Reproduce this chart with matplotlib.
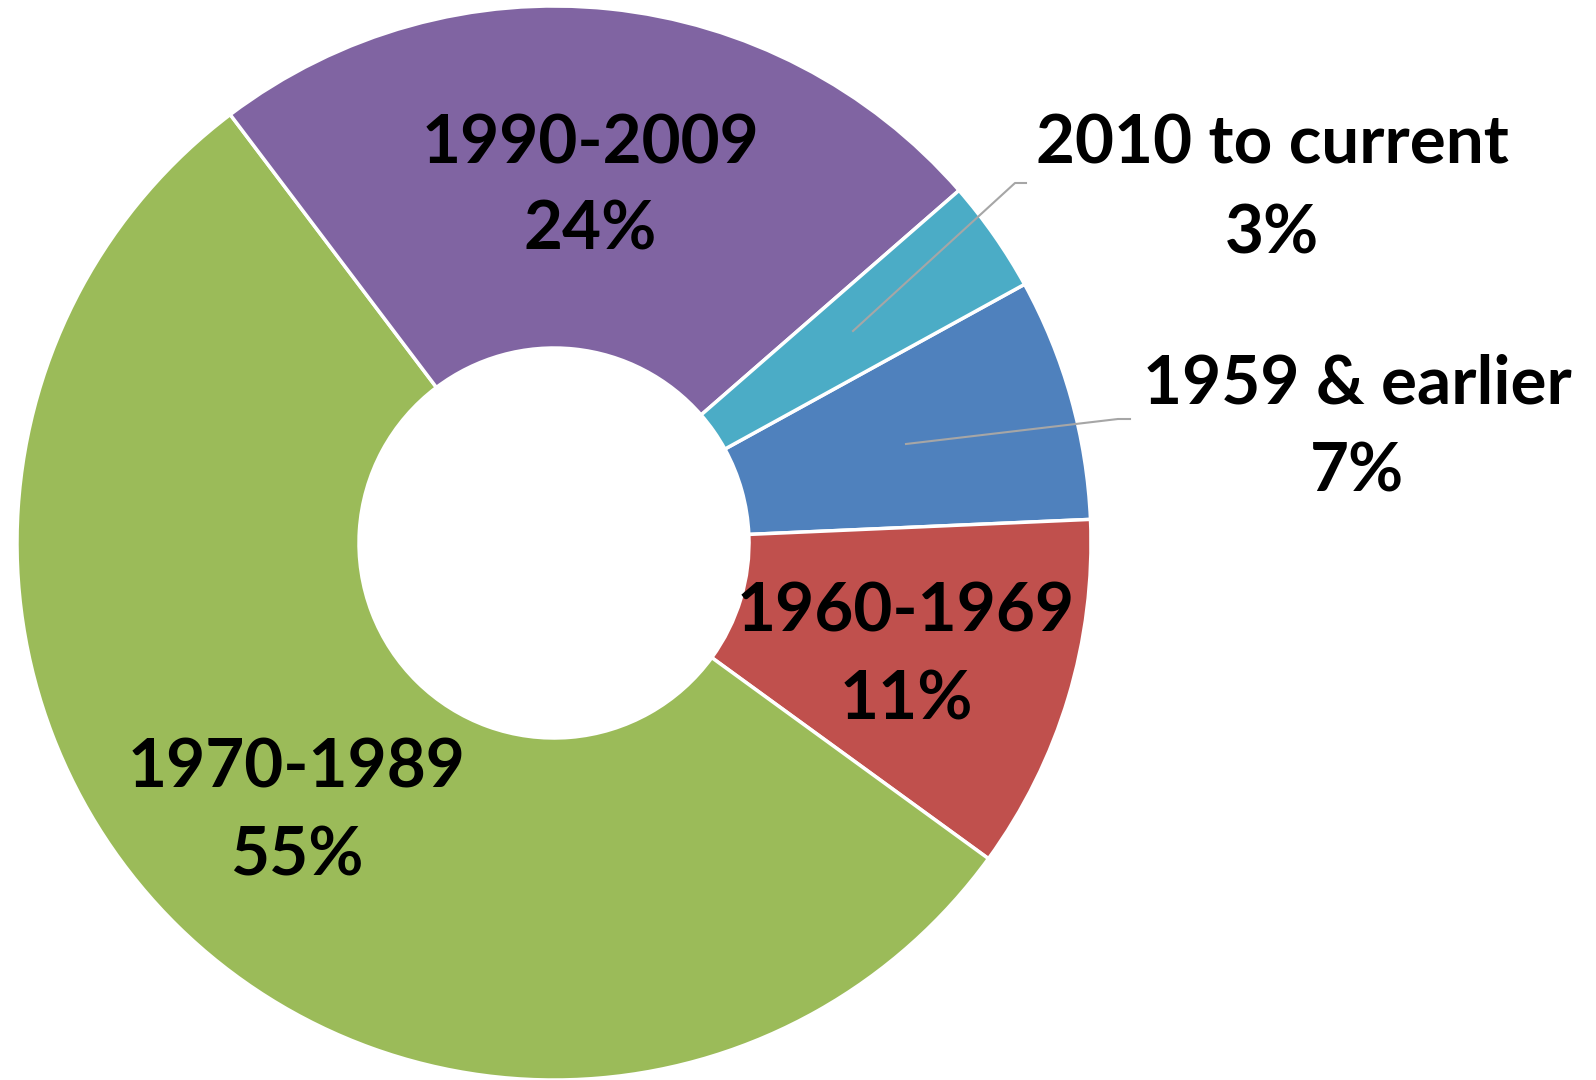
"""
Donut chart: share of housing units by year built.
"""

import matplotlib.pyplot as plt

W, H = 1596, 1080

periods = ["1959 & earlier", "1960-1969", "1970-1989", "1990-2009", "2010 to current"]
shares = [7.3, 10.7, 54.7, 23.9, 3.4]
colors = ["#4F81BD", "#C0504D", "#9BBB59", "#8064A2", "#4BACC6"]

# label anchors (pixel coords from top-left): name baseline, pct baseline
label_pos = {
    "1959 & earlier": (1357, 403, 492),
    "1960-1969": (906, 631, 720),
    "1970-1989": (297, 787, 876),
    "1990-2009": (590, 163, 250),
    "2010 to current": (1272, 163, 253),
}
leaders = {
    "1959 & earlier": [(906, 444), (1118, 419), (1130, 419)],
    "2010 to current": [(853, 331), (1015, 183), (1026, 183)],
}

fig = plt.figure(figsize=(W / 100, H / 100), dpi=100)
ax = fig.add_axes([0, 0, 1, 1])

cx, cy, R, r_in = 554, 543, 537, 195


def flip(y):
    return H - y


ax.pie(
    shares,
    colors=colors,
    startangle=28.8,
    counterclock=False,
    center=(cx, flip(cy)),
    radius=R,
    wedgeprops=dict(width=R - r_in, edgecolor="white", linewidth=2.5),
    frame=True,
)
ax.set_xlim(0, W)
ax.set_ylim(0, H)
ax.axis("off")

for name, val in zip(periods, shares):
    x, y1, y2 = label_pos[name]
    kw = dict(ha="center", va="baseline", fontsize=48.5, fontweight="bold",
              family="Lato", color="black")
    ax.text(x, flip(y1), name, **kw)
    ax.text(x, flip(y2), f"{val:.0f}%", **kw)

for pts in leaders.values():
    ax.plot([p[0] for p in pts], [flip(p[1]) for p in pts], color="#A6A6A6", lw=1.5)

fig.savefig("out.png", dpi=100)
